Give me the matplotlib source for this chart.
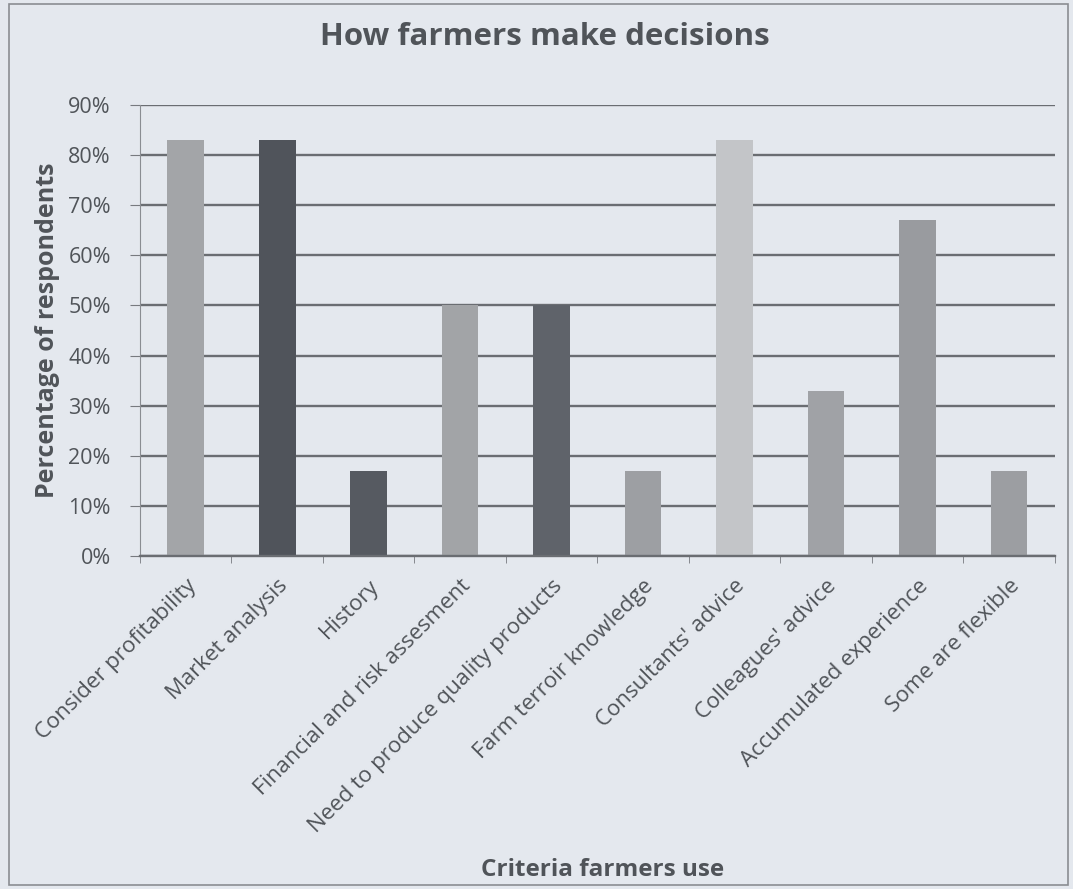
import matplotlib.pyplot as plt
from matplotlib.patches import Rectangle
from matplotlib.ticker import PercentFormatter, FixedLocator
import numpy as np

# 데이터
criteria = ['Consider profitability', 'Market analysis', 'History',
            'Financial and risk assesment', 'Need to produce quality products',
            'Farm terroir knowledge', "Consultants' advice", "Colleagues' advice",
            'Accumulated experience', 'Some are flexible']
percent = [83, 83, 17, 50, 50, 17, 83, 33, 67, 17]
bar_colors = ['#a3a5a8', '#50545b', '#565a61', '#a2a4a7', '#5f636a',
              '#9d9fa3', '#c3c5c8', '#a0a2a6', '#999b9f', '#9c9ea2']

bg = '#e4e8ee'
text_col = '#505459'
plt.rcParams['font.family'] = ['Open Sans', 'DejaVu Sans']

fig = plt.figure(figsize=(10.73, 8.89), dpi=100, facecolor=bg)
ax = fig.add_axes([0.1305, 0.3746, 0.8525, 0.5073])
ax.set_facecolor(bg)

x = np.arange(len(criteria))
ax.set_axisbelow(True)
ax.yaxis.grid(True, color='#6a6d72', linewidth=1.7)
ax.bar(x, percent, width=0.4, color=bar_colors)

ax.set_xlim(-0.5, len(criteria) - 0.5)
ax.set_ylim(0, 90)
ax.set_yticks(np.arange(0, 91, 10))
ax.yaxis.set_major_formatter(PercentFormatter(decimals=0))
ax.set_xticks(x)
ax.set_xticklabels(criteria, rotation=45, ha='right', rotation_mode='anchor',
                   fontsize=16, color=text_col)
ax.tick_params(axis='x', length=0, pad=14)
ax.xaxis.set_minor_locator(FixedLocator(np.arange(-0.5, len(criteria), 1)))
ax.tick_params(axis='x', which='minor', length=5, color='#777a7f')
ax.tick_params(axis='y', length=7, color='#777a7f', labelsize=15.5,
               labelcolor=text_col, pad=14)

for s in ['top', 'right']:
    ax.spines[s].set_visible(False)
ax.spines['left'].set_color('#8a8d92')
ax.spines['bottom'].set_color('#6a6d72')
ax.spines['bottom'].set_linewidth(1.7)

ax.set_ylabel('Percentage of respondents', fontsize=18, fontweight='bold',
              color=text_col, labelpad=6)
fig.text(0.508, 0.958, 'How farmers make decisions', ha='center', va='center',
         fontsize=22.5, fontweight='bold', color=text_col)
fig.text(0.562, 0.021, 'Criteria farmers use', ha='center', va='center',
         fontsize=17.5, fontweight='bold', color=text_col)

# 바깥 테두리
fig.patches.append(Rectangle((0.008, 0.005), 0.987, 0.99, transform=fig.transFigure,
                             fill=False, edgecolor='#8a8d92', linewidth=1.2))

fig.savefig('out.png', dpi=100, facecolor=bg)
